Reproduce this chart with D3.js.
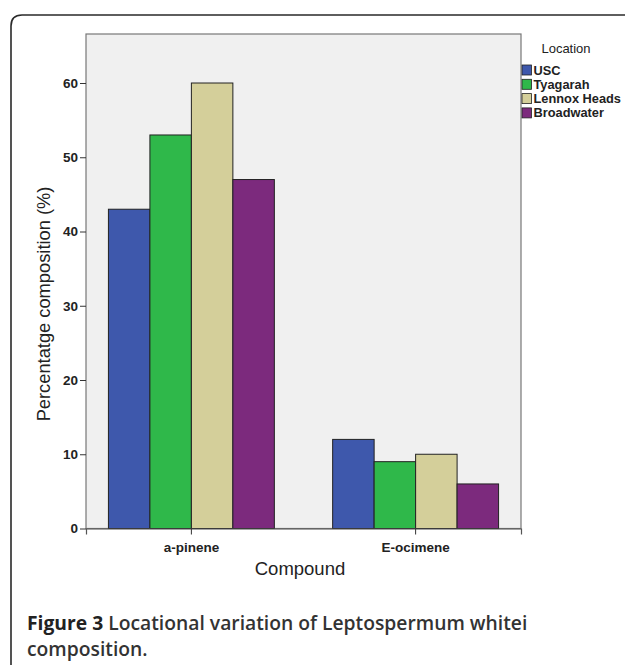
<!DOCTYPE html>
<html>
<head>
<meta charset="utf-8">
<script src="https://cdn.jsdelivr.net/npm/d3@7"></script>
<style>
  body { margin: 0; background: #fff; }
  svg { display: block; }
</style>
</head>
<body>
<svg id="chart"></svg>
<script>
const compounds = ["a-pinene", "E-ocimene"];
const locations = ["USC", "Tyagarah", "Lennox Heads", "Broadwater"];
const colors = ["#3e58ac", "#2fb84a", "#d4cf9a", "#7c2a7d"];
// percentage per location, one array per compound
const apinene = [43, 53, 60, 47];
const eocimene = [12, 9, 10, 6];
const yTicks = [0, 10, 20, 30, 40, 50, 60];

const width = 625, height = 665;
const plot = {left: 86, right: 521, top: 34, bottom: 528.5};
const font = "Arial, 'Liberation Sans'";

const svg = d3.select("#chart").attr("width", width).attr("height", height);

// frame around figure
svg.append("path")
  .attr("d", "M11,665 L11,26 Q11,15 22,15 L625,15")
  .attr("fill", "none")
  .attr("stroke", "#2a2a2a")
  .attr("stroke-width", 1.6);

const x0 = d3.scaleBand().domain(compounds)
  .range([plot.left, plot.right]).paddingInner(0.26).paddingOuter(0.1);
const x1 = d3.scaleBand().domain(locations).range([0, x0.bandwidth()]);
const y = d3.scaleLinear().domain([0, 66.6]).range([plot.bottom, plot.top]);
const color = d3.scaleOrdinal(locations, colors);

svg.append("rect")
  .attr("x", plot.left).attr("y", plot.top)
  .attr("width", plot.right - plot.left).attr("height", plot.bottom - plot.top)
  .attr("fill", "#f0f0f0")
  .attr("stroke", "#777").attr("stroke-width", 1.2);

const rows = compounds.map((c, i) => ({compound: c, values: [apinene, eocimene][i]}));

svg.append("g").selectAll("g")
  .data(rows)
  .enter()
  .append("g")
  .attr("transform", d => "translate(" + x0(d.compound) + ",0)")
  .selectAll("rect")
  .data(d => d.values.map((v, i) => ({loc: locations[i], value: v})))
  .enter()
  .append("rect")
  .attr("x", d => x1(d.loc))
  .attr("y", d => y(d.value))
  .attr("width", x1.bandwidth())
  .attr("height", d => y(0) - y(d.value))
  .attr("fill", d => color(d.loc))
  .attr("stroke", "#222")
  .attr("stroke-width", 1);

// y axis
const yAxis = svg.append("g")
  .attr("transform", "translate(" + plot.left + ",0)")
  .call(d3.axisLeft(y).tickValues(yTicks).tickSize(6).tickPadding(2));
yAxis.select(".domain").remove();
yAxis.selectAll("line").attr("stroke", "#333");
yAxis.selectAll("text")
  .style("font-family", font)
  .style("font-size", "13.5px")
  .style("font-weight", "bold")
  .attr("fill", "#222");

// x axis
const xAxis = svg.append("g")
  .attr("transform", "translate(0," + plot.bottom + ")")
  .call(d3.axisBottom(x0).tickSize(6).tickPadding(8));
xAxis.select(".domain").attr("stroke", "#555").attr("stroke-width", 1.2);
xAxis.selectAll("line").attr("stroke", "#333");
xAxis.selectAll("text")
  .style("font-family", font)
  .style("font-size", "13.5px")
  .style("font-weight", "bold")
  .attr("fill", "#222");

svg.append("text")
  .attr("transform", "translate(50,304) rotate(-90)")
  .attr("text-anchor", "middle")
  .style("font-family", font)
  .style("font-size", "18.3px")
  .attr("fill", "#222")
  .text("Percentatge composition (%)");

svg.append("text")
  .attr("x", 300).attr("y", 575)
  .attr("text-anchor", "middle")
  .style("font-family", font)
  .style("font-size", "18.5px")
  .attr("fill", "#222")
  .text("Compound");

// legend
const legend = svg.append("g").attr("transform", "translate(522,0)");
legend.append("text")
  .attr("x", 44).attr("y", 53)
  .attr("text-anchor", "middle")
  .style("font-family", font)
  .style("font-size", "13px")
  .attr("fill", "#222")
  .text("Location");
const item = legend.selectAll("g.item")
  .data(locations)
  .enter()
  .append("g")
  .attr("class", "item")
  .attr("transform", (d, i) => "translate(0," + (65 + i * 14.3) + ")");
item.append("rect")
  .attr("width", 9.5).attr("height", 10)
  .attr("fill", d => color(d))
  .attr("stroke", "#222").attr("stroke-width", 0.8);
item.append("text")
  .attr("x", 11.5).attr("y", 9.5)
  .style("font-family", font)
  .style("font-size", "12.8px")
  .style("font-weight", "bold")
  .attr("fill", "#222")
  .text(d => d);

// caption
const caption = svg.append("text")
  .attr("x", 27).attr("y", 630)
  .style("font-family", "'Open Sans', 'Noto Sans', sans-serif")
  .style("font-size", "19.3px")
  .style("font-weight", 600)
  .attr("fill", "#333");
caption.append("tspan").style("font-weight", 700).attr("fill", "#222").text("Figure 3 ");
caption.append("tspan").text("Locational variation of Leptospermum whitei");
svg.append("text")
  .attr("x", 27).attr("y", 656)
  .style("font-family", "'Open Sans', 'Noto Sans', sans-serif")
  .style("font-size", "19.3px")
  .style("font-weight", 600)
  .attr("fill", "#333")
  .text("composition.");
</script>
</body>
</html>
